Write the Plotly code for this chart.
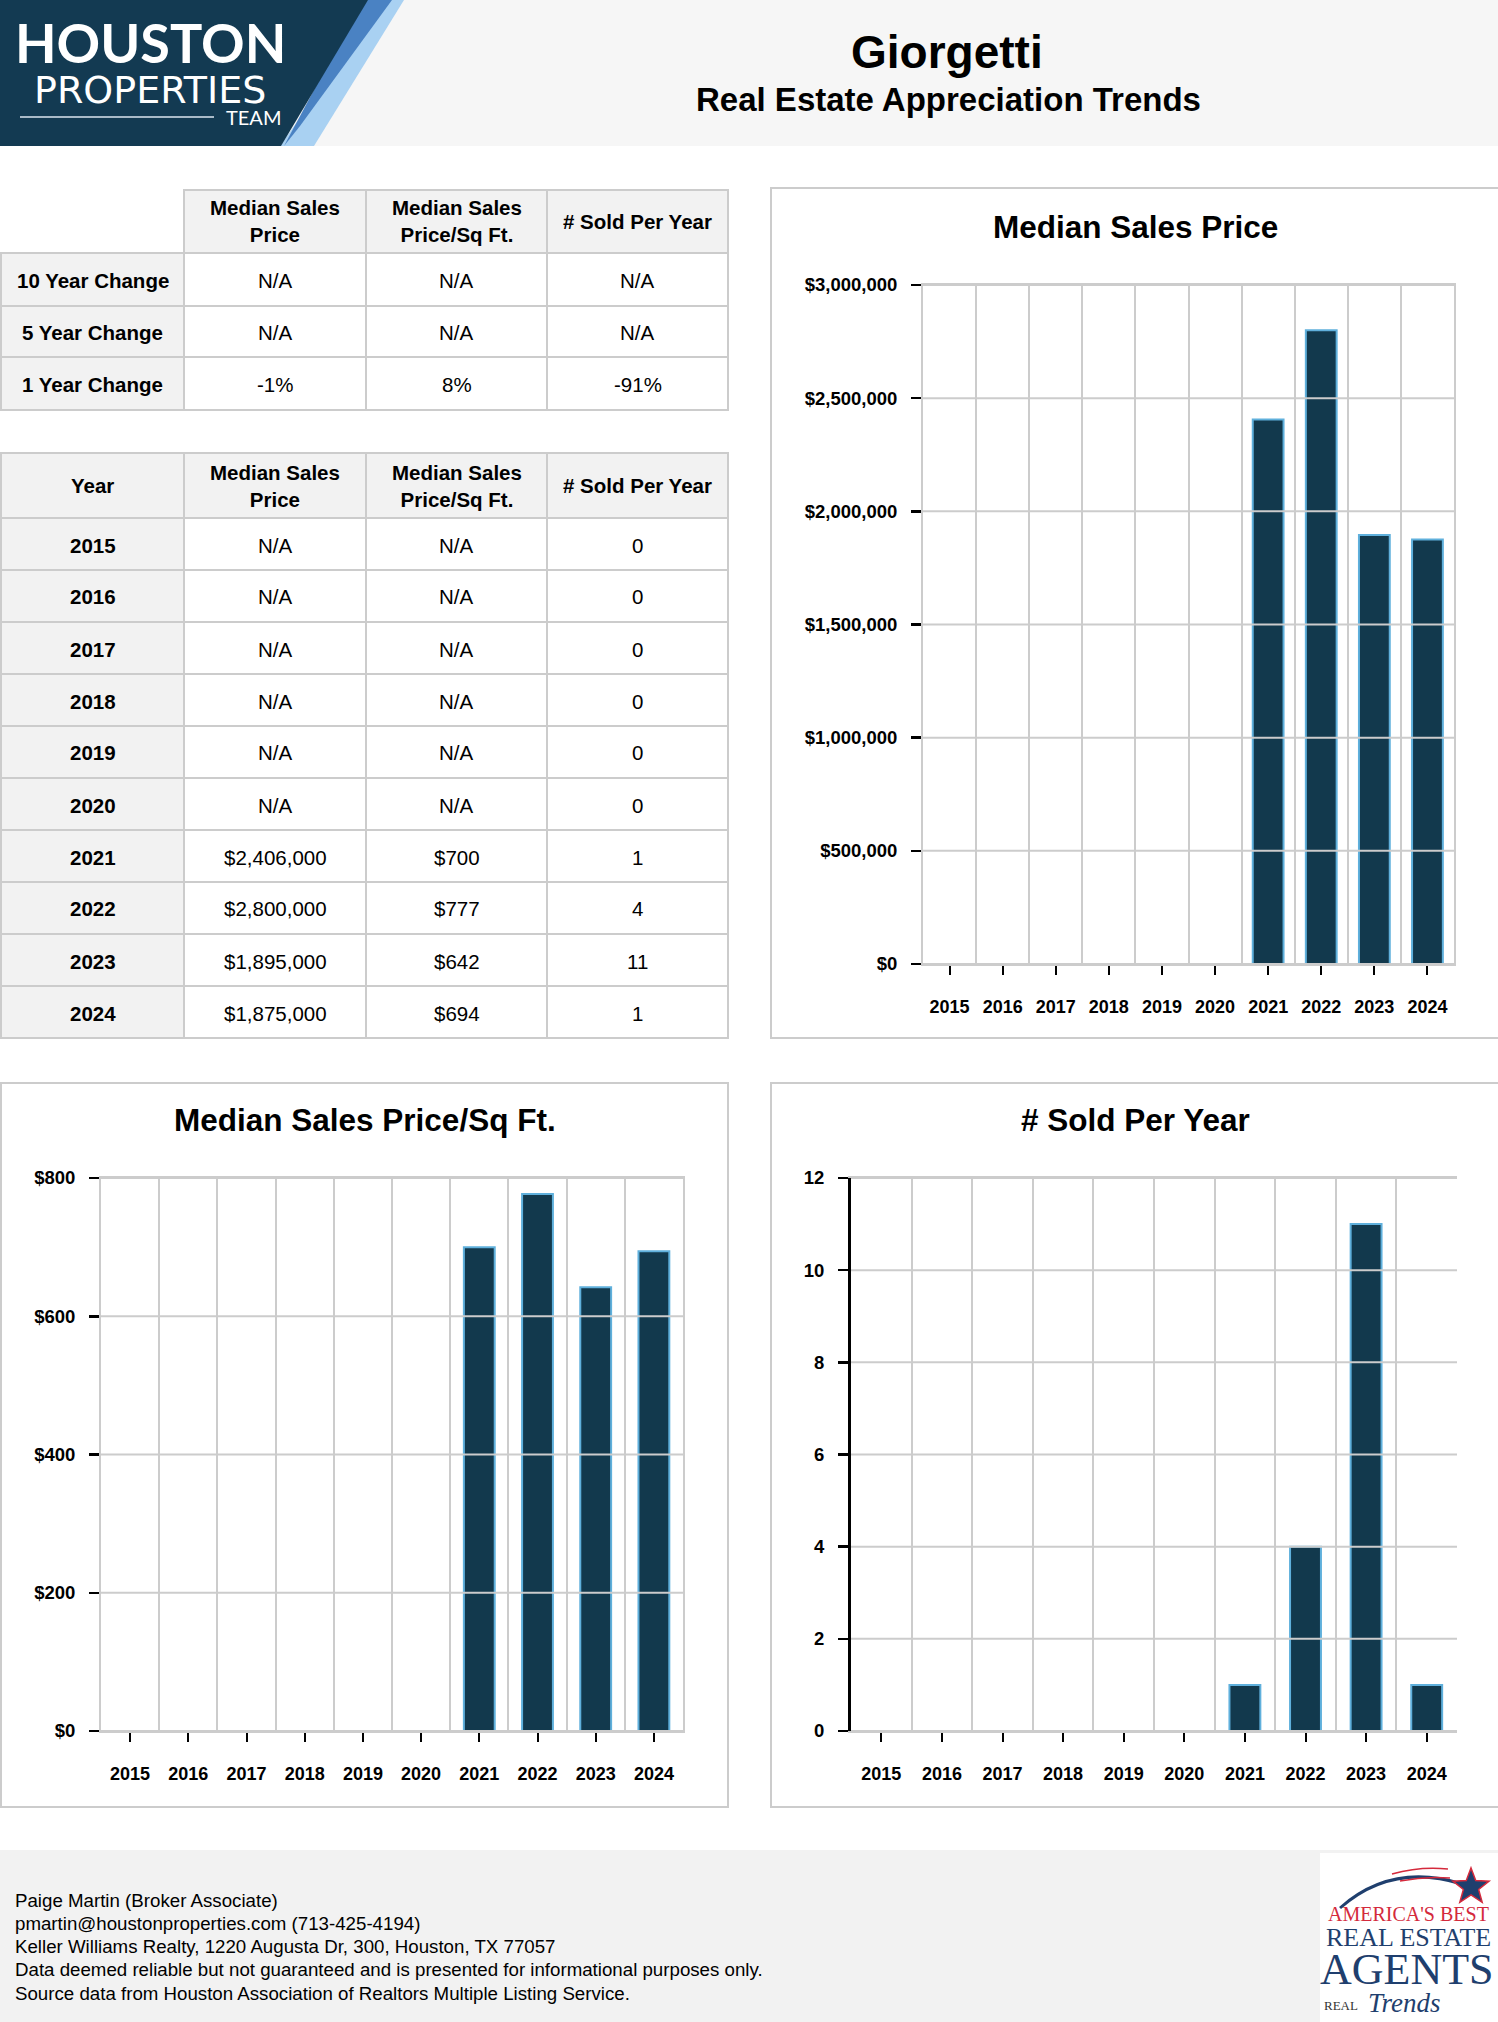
import math
import plotly.graph_objects as go

W, H = 1498, 2022

# ---------------- data ----------------
years = [2015, 2016, 2017, 2018, 2019, 2020, 2021, 2022, 2023, 2024]
median_price = [None, None, None, None, None, None, 2406000, 2800000, 1895000, 1875000]
price_per_sqft = [None, None, None, None, None, None, 700, 777, 642, 694]
sold_per_year = [0, 0, 0, 0, 0, 0, 1, 4, 11, 1]

change_labels = ["10 Year Change", "5 Year Change", "1 Year Change"]
change_price = ["N/A", "N/A", "-1%"]
change_sqft = ["N/A", "N/A", "8%"]
change_sold = ["N/A", "N/A", "-91%"]

column_headers = ["Median Sales<br>Price", "Median Sales<br>Price/Sq Ft.", "# Sold Per Year"]

price_ticks = [0, 500000, 1000000, 1500000, 2000000, 2500000, 3000000]
sqft_ticks = [0, 200, 400, 600, 800]
sold_ticks = [0, 2, 4, 6, 8, 10, 12]

footer_lines = [
    "Paige Martin (Broker Associate)",
    "pmartin@houstonproperties.com (713-425-4194)",
    "Keller Williams Realty, 1220 Augusta Dr, 300, Houston, TX 77057",
    "Data deemed reliable but not guaranteed and is presented for informational purposes only.",
    "Source data from Houston Association of Realtors Multiple Listing Service.",
]

# ---------------- styling ----------------
FONT = "Liberation Sans, Arial, Helvetica, sans-serif"
SERIF = "Liberation Serif, Times New Roman, serif"
BAR_FILL = "#12394d"
BAR_LINE = "#5fb0dc"
GRID = "#cccccc"
HEAD_BG = "#f2f2f2"
NAVY = "#133a52"


def fx(x):
    return x / W


def fy(y):
    return 1 - y / H


shapes = []
annotations = []


def rect(x0, y0, x1, y1, fill=None, line=None, lw=2, layer="below"):
    d = dict(type="rect", xref="paper", yref="paper",
             x0=fx(x0), x1=fx(x1), y0=fy(y1), y1=fy(y0), layer=layer)
    d["fillcolor"] = fill if fill else "rgba(0,0,0,0)"
    d["line"] = dict(color=line if line else "rgba(0,0,0,0)", width=lw if line else 0)
    shapes.append(d)


def path(points, fill=None, line=None, lw=0, closed=True, layer="below"):
    s = "M " + " L ".join(f"{fx(x):.5f},{fy(y):.5f}" for x, y in points)
    if closed:
        s += " Z"
    shapes.append(dict(type="path", xref="paper", yref="paper", path=s, layer=layer,
                       fillcolor=fill if fill else "rgba(0,0,0,0)",
                       line=dict(color=line if line else "rgba(0,0,0,0)", width=lw)))


def qpath(p0, c, p1, color, lw):
    s = (f"M {fx(p0[0]):.5f},{fy(p0[1]):.5f} Q {fx(c[0]):.5f},{fy(c[1]):.5f} "
         f"{fx(p1[0]):.5f},{fy(p1[1]):.5f}")
    shapes.append(dict(type="path", xref="paper", yref="paper", path=s, layer="above",
                       line=dict(color=color, width=lw)))


def text(x, y, t, size, color="#000", family=FONT, xanchor="center", yanchor="middle", bold=False, italic=False):
    if bold:
        t = f"<b>{t}</b>"
    if italic:
        t = f"<i>{t}</i>"
    annotations.append(dict(x=fx(x), y=fy(y), xref="paper", yref="paper", text=t, showarrow=False,
                            xanchor=xanchor, yanchor=yanchor,
                            font=dict(family=family, size=size, color=color)))


# ---------------- header ----------------
rect(0, 0, W, 146, fill="#f6f6f6")
path([(383, 0), (404, 0), (314, 146), (280, 146)], fill="#a9d1f2")
path([(362, 0), (392, 0), (300, 126), (284, 146)], fill="#4a82c3")
path([(0, 0), (368, 0), (281, 146), (0, 146)], fill=NAVY)
text(150, 42, "HOUSTON", 54, color="white", family="Lato, " + FONT, bold=True)
text(150, 90, "PROPERTIES", 38, color="white", family="DejaVu Sans, " + FONT)
shapes.append(dict(type="line", xref="paper", yref="paper", x0=fx(20), x1=fx(214), y0=fy(117), y1=fy(117),
                   line=dict(color="rgba(220,230,240,0.75)", width=2)))
text(253, 117, "TEAM", 20, color="white", family="Lato, " + FONT)

text(947, 52, "Giorgetti", 46, bold=True)
text(948, 100, "Real Estate Appreciation Trends", 33, bold=True)


# ---------------- tables ----------------
def draw_table(col_edges, row_edges, headers, rows, corner_label=None):
    for c in range(len(col_edges) - 1):
        x0, x1 = col_edges[c], col_edges[c + 1]
        y0, y1 = row_edges[0], row_edges[1]
        if c == 0:
            if corner_label is None:
                continue
            rect(x0, y0, x1, y1, fill=HEAD_BG, line=GRID)
            text((x0 + x1) / 2, (y0 + y1) / 2, corner_label, 20.5, bold=True)
        else:
            rect(x0, y0, x1, y1, fill=HEAD_BG, line=GRID)
            text((x0 + x1) / 2, (y0 + y1) / 2, headers[c - 1], 20.5, bold=True)
    for r, row in enumerate(rows):
        y0, y1 = row_edges[r + 1], row_edges[r + 2]
        for c, val in enumerate(row):
            x0, x1 = col_edges[c], col_edges[c + 1]
            rect(x0, y0, x1, y1, fill=HEAD_BG if c == 0 else "white", line=GRID)
            text((x0 + x1) / 2, (y0 + y1) / 2 + 1, val, 20.5, bold=(c == 0))


col_edges = [1, 184, 366, 547, 728]

t1_rows = [[change_labels[i], change_price[i], change_sqft[i], change_sold[i]] for i in range(3)]
draw_table(col_edges, [190, 253, 306, 357, 410], column_headers, t1_rows)


def fmt_price(v):
    return "N/A" if v is None else f"${v:,}"


t2_rows = [[str(years[i]), fmt_price(median_price[i]), fmt_price(price_per_sqft[i]), str(sold_per_year[i])]
           for i in range(len(years))]
t2_top, t2_head, t2_bottom = 453, 518, 1038
row_h = (t2_bottom - t2_head) / len(years)
t2_edges = [t2_top] + [t2_head + i * row_h for i in range(len(years) + 1)]
draw_table(col_edges, t2_edges, column_headers, t2_rows, corner_label="Year")

# ---------------- chart boxes & titles ----------------
rect(771, 188, W + 4, 1038, line=GRID)
rect(1, 1083, 728, 1807, line=GRID)
rect(771, 1083, W + 4, 1807, line=GRID)
text(1135, 227, "Median Sales Price", 31.5, bold=True)
text(365, 1120, "Median Sales Price/Sq Ft.", 31.5, bold=True)
text(1135, 1120, "# Sold Per Year", 31.5, bold=True)

# ---------------- footer ----------------
rect(0, 1850, W, H + 2, fill="#f2f2f2")
for i, line in enumerate(footer_lines):
    text(13, 1900 + i * 23.3, line, 18.7, xanchor="left")

# footer logo
rect(1320, 1853, W + 2, H + 2, fill="white")
qpath((1340, 1908), (1392, 1862), (1462, 1884), "#1f3f6e", 3)
qpath((1392, 1874), (1420, 1866), (1448, 1869), "#d42a3c", 1.5)
qpath((1400, 1881), (1425, 1876), (1450, 1878), "#d42a3c", 1.5)
cx, cy = 1471, 1887
star = []
for k in range(10):
    ang = -math.pi / 2 + k * math.pi / 5
    rr = 19 if k % 2 == 0 else 8
    star.append((cx + rr * math.cos(ang), cy + rr * math.sin(ang)))
path(star, fill="#1f3f6e", line="#d42a3c", lw=1.5, layer="above")
text(1408, 1914, "AMERICA'S BEST", 20, color="#d42a3c", family=SERIF)
text(1408, 1937, "REAL ESTATE", 26, color="#1f3f6e", family=SERIF)
text(1407, 1969, "AGENTS", 44, color="#1f3f6e", family=SERIF)
text(1322, 2005, "REAL", 13, color="#333", family=SERIF, xanchor="left")
text(1366, 2003, "Trends", 27, color="#1f3f6e", family=SERIF, xanchor="left", italic=True)

# ---------------- charts ----------------
fig = go.Figure()
idx = list(range(len(years)))
boundaries = [i - 0.5 for i in range(len(years) + 1)]

charts = [
    (median_price, price_ticks, [f"${v:,}" for v in price_ticks], (923, 1454), (285, 964), 0.58, False),
    (price_per_sqft, sqft_ticks, [f"${v:,}" for v in sqft_ticks], (101, 683), (1178, 1731), 0.53, False),
    (sold_per_year, sold_ticks, [str(v) for v in sold_ticks], (851, 1457), (1178, 1731), 0.51, True),
]

layout_axes = {}
for n, (vals, ticks, ttext, xd, yd, bw, black_y) in enumerate(charts, start=1):
    xa = "x" if n == 1 else f"x{n}"
    ya = "y" if n == 1 else f"y{n}"
    lws = [0 if (v is None or v == 0) else 2 for v in vals]
    fig.add_trace(go.Bar(x=idx, y=vals, xaxis=xa, yaxis=ya, width=bw,
                         marker=dict(color=BAR_FILL, line=dict(color=BAR_LINE, width=lws)),
                         hoverinfo="skip", showlegend=False))
    xkey = "xaxis" if n == 1 else f"xaxis{n}"
    ykey = "yaxis" if n == 1 else f"yaxis{n}"
    layout_axes[xkey] = dict(
        domain=[fx(xd[0]), fx(xd[1])], anchor=ya, range=[-0.5, len(years) - 0.5],
        tickmode="array", tickvals=idx, ticktext=[str(y) for y in years],
        showgrid=False, zeroline=False, showline=True, linecolor=GRID, linewidth=2, mirror=True,
        ticks="outside", ticklen=9, tickwidth=2, tickcolor="black", ticklabelstandoff=16,
        tickfont=dict(family=FONT, size=18, color="black", weight="bold"),
        minor=dict(tickmode="array", tickvals=boundaries, showgrid=True, gridcolor=GRID, gridwidth=2, ticks=""),
        fixedrange=True, automargin=False,
    )
    layout_axes[ykey] = dict(
        domain=[fy(yd[1]), fy(yd[0])], anchor=xa, range=[ticks[0], ticks[-1]],
        tickmode="array", tickvals=ticks, ticktext=ttext,
        showgrid=False, zeroline=False,
        showline=True, linecolor="black" if black_y else GRID, linewidth=3 if black_y else 2,
        mirror=False if black_y else True, layer="above traces",
        ticks="outside", ticklen=10, tickwidth=2.5, tickcolor="black", ticklabelstandoff=10,
        tickfont=dict(family=FONT, size=18.5, color="black", weight="bold"),
        fixedrange=True, automargin=False,
    )
    for t in ticks:
        shapes.append(dict(type="line", xref=f"{xa} domain", yref=ya, x0=0, x1=1, y0=t, y1=t,
                           layer="above", line=dict(color=GRID, width=2)))

fig.update_layout(
    width=W, height=H, margin=dict(l=0, r=0, t=0, b=0, pad=0, autoexpand=False),
    paper_bgcolor="white", plot_bgcolor="white",
    shapes=shapes, annotations=annotations, bargap=0, hovermode=False,
    font=dict(family=FONT, color="black"),
    **layout_axes,
)

fig.write_html(
    "out.html",
    config=dict(displayModeBar=False, staticPlot=True),
    post_script="document.documentElement.style.margin='0';document.body.style.margin='0';"
                "document.body.style.overflow='hidden';",
)
